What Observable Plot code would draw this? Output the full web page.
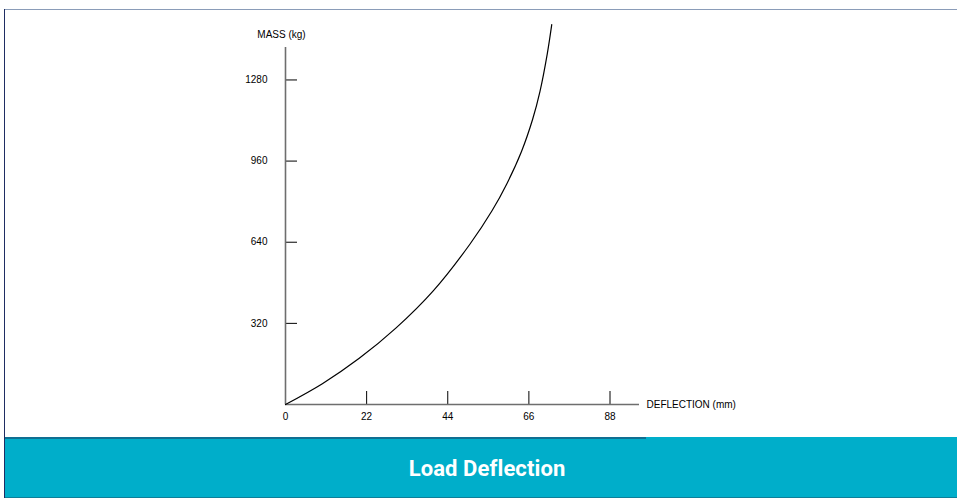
<!DOCTYPE html>
<html>
<head>
<meta charset="utf-8">
<script src="https://cdn.jsdelivr.net/npm/d3@7"></script>
<script src="https://cdn.jsdelivr.net/npm/@observablehq/plot@0.6"></script>
<style>
  html, body { margin: 0; padding: 0; background: #fff; }
  #wrap { position: relative; width: 957px; height: 498px; overflow: hidden; background: #fff; }
  #chart { position: absolute; left: 0; top: 0; }
  #topline { position: absolute; left: 4px; top: 9px; width: 953px; height: 1px; background: #8a9cb8; }
  #leftline { position: absolute; left: 4px; top: 9px; width: 1px; height: 489px; background: #1f2d63; }
  #banner { position: absolute; left: 5px; top: 437px; width: 952px; height: 60px; background: #00aeca;
            display: flex; align-items: center; justify-content: center; }
  #banner-line { position: absolute; left: 5px; top: 437px; width: 641px; height: 2px; background: #0f6f92; }
  #bottom-line { position: absolute; left: 5px; top: 497px; width: 952px; height: 1px; background: #0d7f99; }
  #title { color: #fff; font-family: Roboto, "DejaVu Sans Condensed", sans-serif; font-weight: 700;
           font-size: 22px; letter-spacing: 0.1px; margin-top: 2px; margin-left: 12px; }
</style>
</head>
<body>
<div id="wrap">
  <div id="chart"></div>
  <div id="topline"></div>
  <div id="banner"><div id="title">Load Deflection</div></div>
  <div id="banner-line"></div>
  <div id="bottom-line"></div>
  <div id="leftline"></div>
</div>
<script>
// Data
const deflection = [0, 10, 20, 30, 40, 50, 56, 60, 64, 67, 69, 71, 72.2];
const mass       = [0, 82, 182, 302, 447, 632, 764, 870, 998, 1124, 1234, 1384, 1498];
const xTicks = [22, 44, 66, 88];
const xLabels = [0, 22, 44, 66, 88];
const yTicks = [320, 640, 960, 1280];
const xLabel = "DEFLECTION (mm)";
const yLabel = "MASS (kg)";
const xMax = 96;
const yMax = 1408;

const curveData = deflection.map((d, i) => ({x: d, y: mass[i]}));

const W = 957, H = 437;
const mL = 285, mR = 318, mT = 47, mB = 33;
// tick lengths in pixels converted to data units
const xTickLen = 13 * yMax / (H - mT - mB);
const yTickLen = 12 * xMax / (W - mL - mR);

const font = "Liberation Sans, Arial, sans-serif";

const chart = Plot.plot({
  width: W,
  height: H,
  marginLeft: mL,
  marginRight: mR,
  marginTop: mT,
  marginBottom: mB,
  x: {domain: [0, xMax], axis: null},
  y: {domain: [0, yMax], axis: null},
  style: {fontFamily: font, fontSize: "10px", color: "#000", background: "transparent", overflow: "visible"},
  marks: [
    // tick marks
    Plot.ruleX(xTicks, {x: d => d, y1: 0, y2: xTickLen, stroke: "#000", strokeWidth: 1}),
    Plot.ruleY(yTicks, {y: d => d, x1: 0, x2: yTickLen, stroke: "#000", strokeWidth: 1}),
    // axis lines
    Plot.ruleY([0], {x1: 0, x2: xMax, stroke: "#6e6e6e", strokeWidth: 1.6}),
    Plot.ruleX([0], {y1: 0, y2: yMax, stroke: "#6e6e6e", strokeWidth: 1.6}),
    // tick labels
    Plot.text(xLabels, {x: d => d, y: 0, dy: 12, text: d => String(d), fill: "#000", fontSize: 10}),
    Plot.text(yTicks, {x: 0, y: d => d, dx: -18, textAnchor: "end", text: d => String(d), fill: "#000", fontSize: 10}),
    // axis titles
    Plot.text([xLabel], {x: xMax, y: 0, dx: 7, textAnchor: "start", text: d => d, fill: "#000", fontSize: 10}),
    Plot.text([yLabel], {x: 0, y: yMax, dx: -4, dy: -13, text: d => d, fill: "#000", fontSize: 10}),
    // curve
    Plot.line(curveData, {x: "x", y: "y", curve: "catmull-rom", stroke: "#000", strokeWidth: 1.2})
  ]
});
document.getElementById("chart").appendChild(chart);
</script>
</body>
</html>
